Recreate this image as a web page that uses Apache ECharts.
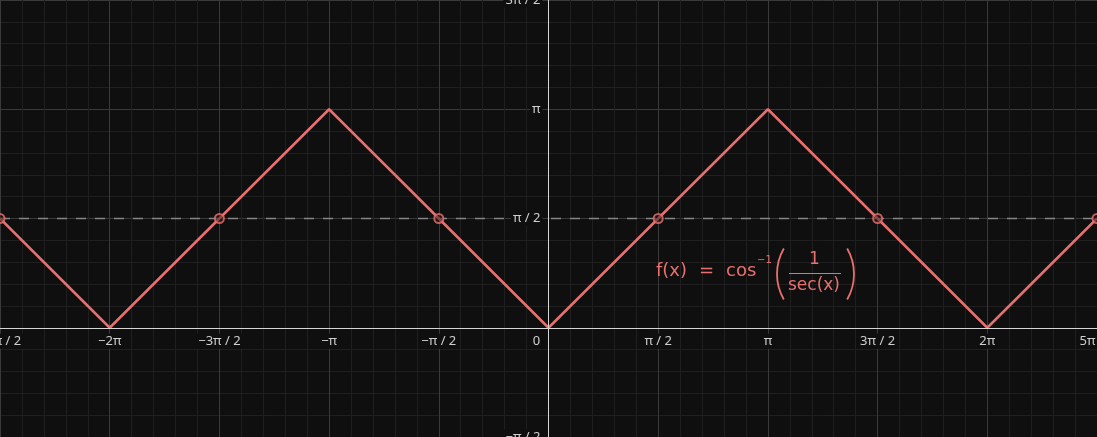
<!DOCTYPE html>
<html>
<head>
<meta charset="utf-8">
<script src="https://cdn.jsdelivr.net/npm/echarts@6/dist/echarts.min.js"></script>
<style>
html,body{margin:0;padding:0;background:#0f0f0f;}
#c{width:1097px;height:437px;}
</style>
</head>
<body>
<div id="c"></div>
<script>
// values in units of π
const curveX = [-2.5, -2, -1, 0, 1, 2, 2.5];
const curveY = [0.5, 0, 1, 0, 1, 0, 0.5];
const holeX = [-2.5, -1.5, -0.5, 0.5, 1.5, 2.5];
const holeY = [0.5, 0.5, 0.5, 0.5, 0.5, 0.5];
const asymptoteX = [-2.5, 2.5];
const asymptoteY = [0.5, 0.5];
const tickValues = [-2.5, -2, -1.5, -1, -0.5, 0, 0.5, 1, 1.5, 2, 2.5];
const tickLabels = ['−5π / 2', '−2π', '−3π / 2', '−π', '−π / 2', '0', 'π / 2', 'π', '3π / 2', '2π', '5π / 2'];
const xMin = -2.5, xMax = 2.5, yMin = -0.5, yMax = 1.5;

const W = 1097, H = 437;
const BG = '#0f0f0f';
const CORAL = '#e8706f';
const LABEL = '#cfcfcf';
const FONT = 'Noto Sans';
const MATHFONT = 'DejaVu Sans';

function labelFor(v) {
  for (let i = 0; i < tickValues.length; i++) {
    if (Math.abs(tickValues[i] - v) < 1e-9) return tickLabels[i];
  }
  return '';
}

// place axes on the zero lines
const xAxisOffset = -H * (0 - yMin) / (yMax - yMin);
const yAxisOffset = -W * (0 - xMin) / (xMax - xMin);

const chart = echarts.init(document.getElementById('c'));

const gridAxis = {
  type: 'value',
  interval: 0.5,
  z: 0,
  axisLine: { show: false },
  axisTick: { show: false },
  axisLabel: { show: false },
  minorTick: { show: false, splitNumber: 5 },
  splitLine: { show: true, lineStyle: { color: '#3a3a3a', width: 1 } },
  minorSplitLine: { show: true, lineStyle: { color: '#1f1f1f', width: 1 } }
};
const labelAxis = {
  type: 'value',
  interval: 0.5,
  z: 10,
  axisLine: { show: true, onZero: false, lineStyle: { color: '#d6d6d6', width: 1 } },
  axisTick: { show: false },
  splitLine: { show: false },
  minorSplitLine: { show: false }
};
const richStyles = {
  a: { color: LABEL, fontFamily: FONT, fontSize: 13, backgroundColor: BG, padding: [1, 2] },
  s: { width: 24, height: 1 }
};
const labelStyle = {
  show: true, showMinLabel: true, showMaxLabel: true,
  color: LABEL, fontFamily: FONT, fontSize: 13,
  rich: richStyles
};

function txt(left, top, text, size) {
  return { type: 'text', left: left, top: top, z: 10,
    style: { text: text, fill: CORAL, fontSize: size, fontFamily: MATHFONT } };
}

chart.setOption({
  backgroundColor: BG,
  animation: false,
  grid: { left: 0, right: 0, top: 0, bottom: 0, containLabel: false, outerBoundsMode: 'none' },
  xAxis: [
    Object.assign({}, gridAxis, { min: xMin, max: xMax, position: 'bottom' }),
    Object.assign({}, labelAxis, {
      min: xMin, max: xMax, position: 'bottom', offset: xAxisOffset,
      axisLabel: Object.assign({}, labelStyle, {
        margin: 6,
        formatter: function (v) { return Math.abs(v) < 1e-9 ? '{a|0}{s|}' : '{a|' + labelFor(v) + '}'; }
      })
    })
  ],
  yAxis: [
    Object.assign({}, gridAxis, { min: yMin, max: yMax, position: 'left' }),
    Object.assign({}, labelAxis, {
      min: yMin, max: yMax, position: 'left', offset: yAxisOffset,
      axisLabel: Object.assign({}, labelStyle, {
        margin: 6,
        formatter: function (v) { return Math.abs(v) < 1e-9 ? '' : '{a|' + labelFor(v) + '}'; }
      })
    })
  ],
  series: [
    {
      type: 'line',
      data: asymptoteX.map((x, i) => [x, asymptoteY[i]]),
      symbol: 'none',
      lineStyle: { color: '#858585', width: 1.6, type: [10, 9] },
      z: 2, silent: true
    },
    {
      type: 'line',
      data: curveX.map((x, i) => [x, curveY[i]]),
      symbol: 'none',
      lineStyle: { color: CORAL, width: 2.5 },
      z: 3, silent: true
    },
    {
      type: 'scatter',
      data: holeX.map((x, i) => [x, holeY[i]]),
      symbol: 'circle',
      symbolSize: 9,
      itemStyle: { color: 'rgba(40,20,20,0.6)', borderColor: CORAL, borderWidth: 2 },
      z: 4, silent: true
    }
  ],
  graphic: [
    txt(656, 262, 'f(x)', 18),
    txt(699, 262, '=', 18),
    txt(726, 262, 'cos', 18),
    txt(757, 255, '−1', 10),
    { type: 'arc', z: 10, shape: { cx: 828, cy: 274, r: 51, startAngle: Math.PI * 5 / 6, endAngle: Math.PI * 7 / 6 },
      style: { stroke: CORAL, lineWidth: 1.8, fill: null } },
    { type: 'arc', z: 10, shape: { cx: 803, cy: 274, r: 51, startAngle: -Math.PI / 6, endAngle: Math.PI / 6 },
      style: { stroke: CORAL, lineWidth: 1.8, fill: null } },
    txt(809, 251, '1', 17),
    { type: 'line', z: 10, shape: { x1: 789, y1: 273.5, x2: 841, y2: 273.5 }, style: { stroke: CORAL, lineWidth: 1.2 } },
    txt(788, 277, 'sec(x)', 17)
  ]
});
</script>
</body>
</html>
